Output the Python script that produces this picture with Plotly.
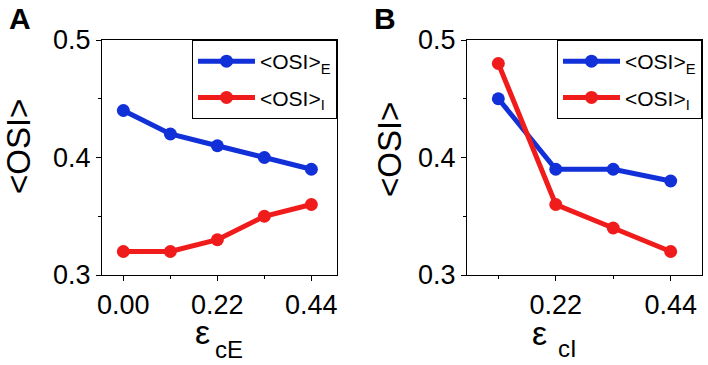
import plotly.graph_objects as go

# ---- data ----
eps_cE = [0.00, 0.11, 0.22, 0.33, 0.44]
osiE_A = [0.44, 0.42, 0.41, 0.40, 0.39]
osiI_A = [0.32, 0.32, 0.33, 0.35, 0.36]

eps_cI = [0.11, 0.22, 0.33, 0.44]
osiE_B = [0.45, 0.39, 0.39, 0.38]
osiI_B = [0.48, 0.36, 0.34, 0.32]

name_E = "&lt;OSI&gt;<sub>E</sub>"
name_I = "&lt;OSI&gt;<sub>I</sub>"

BLUE = "#1230d8"
RED = "#f01c1c"
FONT = "Arial, Liberation Sans, sans-serif"
W, H = 708, 365

def px(x):
    return x / W

def py(y):
    return 1 - y / H

fig = go.Figure()
line_w, msize = 5, 13
fig.add_trace(go.Scatter(x=eps_cE, y=osiE_A, mode="lines+markers", name=name_E, legendgroup="aE",
                         line=dict(color=BLUE, width=line_w), marker=dict(size=msize, color=BLUE),
                         xaxis="x", yaxis="y", legend="legend"))
fig.add_trace(go.Scatter(x=eps_cE, y=osiI_A, mode="lines+markers", name=name_I, legendgroup="aI",
                         line=dict(color=RED, width=line_w), marker=dict(size=msize, color=RED),
                         xaxis="x", yaxis="y", legend="legend"))
fig.add_trace(go.Scatter(x=eps_cI, y=osiE_B, mode="lines+markers", name=name_E, legendgroup="bE",
                         line=dict(color=BLUE, width=line_w), marker=dict(size=msize, color=BLUE),
                         xaxis="x2", yaxis="y2", legend="legend2"))
fig.add_trace(go.Scatter(x=eps_cI, y=osiI_B, mode="lines+markers", name=name_I, legendgroup="bI",
                         line=dict(color=RED, width=line_w), marker=dict(size=msize, color=RED),
                         xaxis="x2", yaxis="y2", legend="legend2"))

ydom = [py(275), py(40)]
common_axis = dict(showline=True, linecolor="black", linewidth=1.2, mirror=True,
                   ticks="outside", ticklen=5, tickwidth=1.2, tickcolor="black",
                   showgrid=False, zeroline=False, automargin=False,
                   tickfont=dict(family=FONT, size=27, color="black"),
                   minor=dict(ticks="outside", ticklen=3, tickwidth=1, tickcolor="black", showgrid=False))

legend_style = dict(xanchor="right", yanchor="top", bgcolor="white", bordercolor="black",
                    borderwidth=1, itemwidth=57, tracegroupgap=6,
                    font=dict(family=FONT, size=21, color="black"))

fig.update_layout(
    width=W, height=H,
    margin=dict(l=0, r=0, t=0, b=0, autoexpand=False),
    paper_bgcolor="white", plot_bgcolor="white",
    font=dict(family=FONT, color="black"),
    xaxis=dict(domain=[px(102), px(337)], range=[-0.05, 0.5], anchor="y",
               tick0=0, dtick=0.22, tickformat=".2f",
               **{**common_axis, "minor": dict(common_axis["minor"], dtick=0.11, tick0=0)}),
    yaxis=dict(domain=ydom, range=[0.3, 0.5], anchor="x", dtick=0.1, tick0=0, tickformat=".1f",
               **{**common_axis, "minor": dict(common_axis["minor"], dtick=0.05, tick0=0)}),
    xaxis2=dict(domain=[px(467), px(702)], range=[0.05, 0.5], anchor="y2",
                tick0=0, dtick=0.22, tickformat=".2f",
                **{**common_axis, "minor": dict(common_axis["minor"], dtick=0.11, tick0=0)}),
    yaxis2=dict(domain=ydom, range=[0.3, 0.5], anchor="x2", dtick=0.1, tick0=0, tickformat=".1f",
                **{**common_axis, "minor": dict(common_axis["minor"], dtick=0.05, tick0=0)}),
    legend=dict(x=px(337), y=py(40), **legend_style),
    legend2=dict(x=px(702), y=py(40), **legend_style),
    showlegend=True,
)

ann = []
def add_text(text, x, y, size, bold=False, angle=0, height=None):
    a = dict(text=f"<b>{text}</b>" if bold else text, x=px(x), y=py(y),
             xref="paper", yref="paper", xanchor="center", yanchor="middle",
             showarrow=False, textangle=angle,
             font=dict(family=FONT, size=size, color="black"))
    if height is not None:
        a["height"] = height
    ann.append(a)

add_text("A", 20, 18, 30, bold=True)
add_text("B", 385, 18, 30, bold=True)
add_text("&lt;OSI&gt;", 18, 147, 33, angle=-90)
add_text("&lt;OSI&gt;", 389, 150, 33, angle=-90)
add_text("ε", 202, 332, 34, height=24)
add_text("cE", 229, 349, 24, height=22)
add_text("ε", 539, 333, 34, height=24)
add_text("cI", 567, 348, 24, height=22)
fig.update_layout(annotations=ann)

fig.write_html("out.html", config={"displayModeBar": False},
               post_script="document.body.style.margin='0';document.body.style.overflow='hidden';")
